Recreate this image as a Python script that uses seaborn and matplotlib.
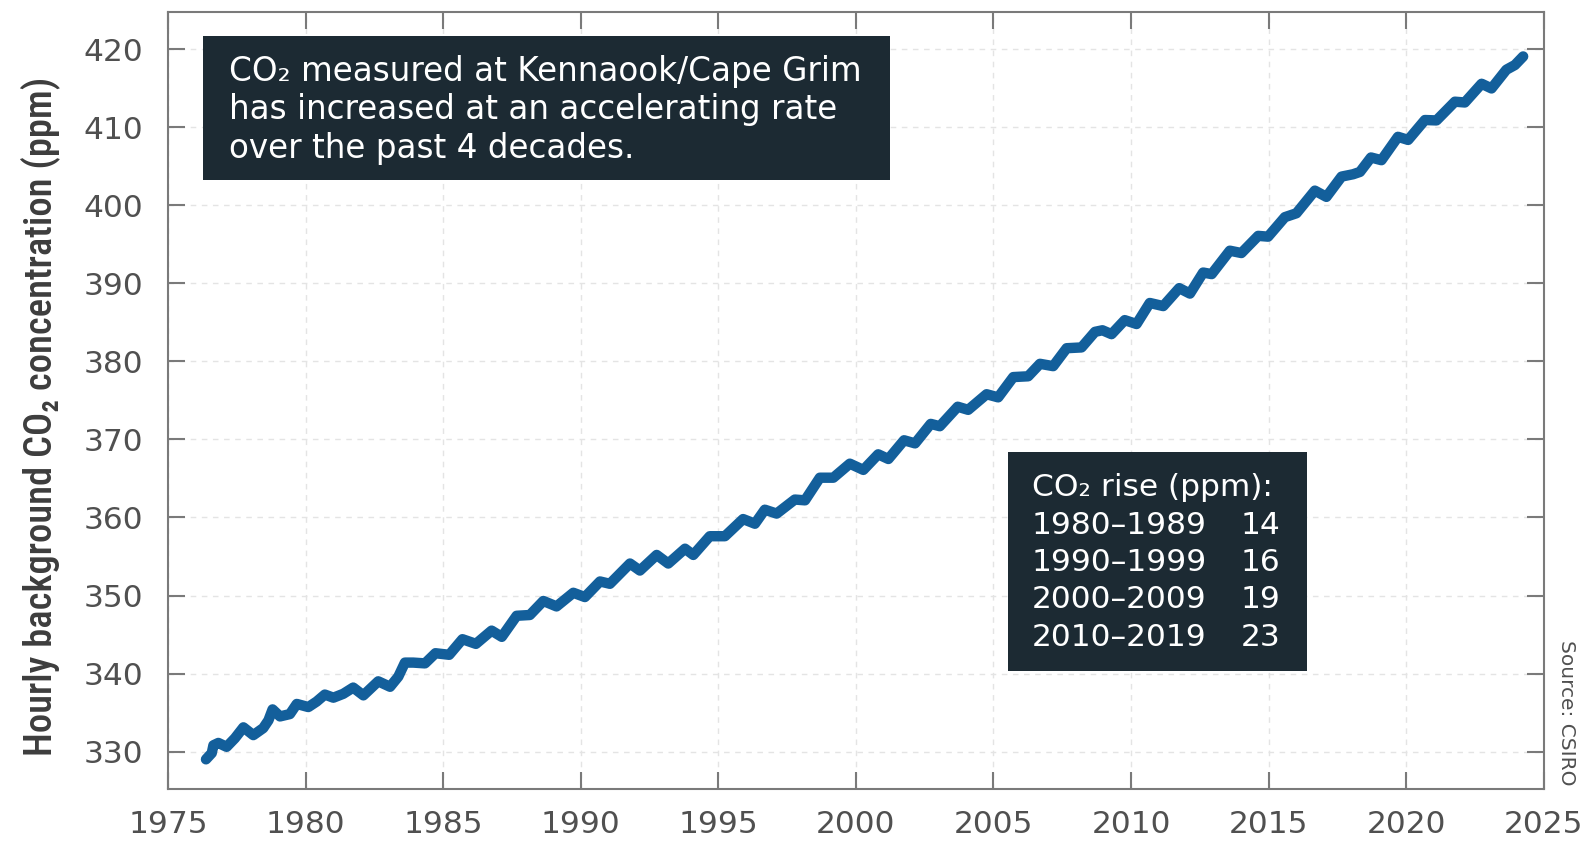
import matplotlib
matplotlib.use("Agg")
import matplotlib.pyplot as plt
import seaborn as sns
import pandas as pd
from matplotlib.patches import Rectangle

# ---- data ----
years = [1976.38, 1976.59, 1976.65, 1976.83, 1977.13, 1977.43, 1977.74, 1978.10, 1978.46, 1978.65,
         1978.80, 1979.07, 1979.43, 1979.68, 1980.10, 1980.40, 1980.70, 1981.01, 1981.37, 1981.73,
         1982.10, 1982.64, 1983.07, 1983.37, 1983.61, 1983.91, 1984.34, 1984.72, 1985.22, 1985.70,
         1986.19, 1986.76, 1987.13, 1987.67, 1988.15, 1988.64, 1989.12, 1989.73, 1990.15, 1990.70,
         1991.06, 1991.79, 1992.15, 1992.76, 1993.18, 1993.79, 1994.09, 1994.69, 1995.24, 1995.90,
         1996.33, 1996.69, 1997.12, 1997.78, 1998.15, 1998.69, 1999.18, 1999.78, 2000.27, 2000.81,
         2001.18, 2001.75, 2002.15, 2002.72, 2003.05, 2003.70, 2004.08, 2004.75, 2005.17, 2005.72,
         2006.26, 2006.69, 2007.17, 2007.66, 2008.20, 2008.69, 2008.96, 2009.29, 2009.77, 2010.20,
         2010.68, 2011.17, 2011.75, 2012.14, 2012.62, 2012.93, 2013.59, 2014.01, 2014.62, 2014.98,
         2015.59, 2016.01, 2016.68, 2017.10, 2017.65, 2018.07, 2018.32, 2018.72, 2019.10, 2019.70,
         2020.07, 2020.68, 2021.10, 2021.77, 2022.13, 2022.74, 2023.10, 2023.64, 2023.95, 2024.25]
co2_ppm = [329.0, 329.8, 330.8, 331.1, 330.6, 331.7, 333.1, 332.1, 333.0, 334.0,
           335.4, 334.5, 334.8, 336.1, 335.7, 336.4, 337.3, 336.9, 337.4, 338.2,
           337.2, 339.0, 338.3, 339.6, 341.4, 341.4, 341.3, 342.6, 342.4, 344.4,
           343.8, 345.5, 344.7, 347.4, 347.5, 349.3, 348.6, 350.35, 349.8, 351.8,
           351.5, 354.1, 353.2, 355.2, 354.1, 356.0, 355.2, 357.6, 357.6, 359.8,
           359.2, 361.0, 360.5, 362.3, 362.2, 365.1, 365.1, 366.9, 366.1, 368.1,
           367.5, 369.9, 369.5, 372.0, 371.7, 374.2, 373.8, 375.8, 375.4, 378.0,
           378.1, 379.7, 379.4, 381.7, 381.8, 383.8, 384.0, 383.5, 385.3, 384.8,
           387.5, 387.1, 389.4, 388.7, 391.4, 391.2, 394.2, 393.9, 396.1, 396.0,
           398.5, 399.0, 401.9, 401.1, 403.7, 404.0, 404.3, 406.15, 405.8, 408.8,
           408.4, 410.95, 410.9, 413.3, 413.2, 415.6, 415.0, 417.4, 418.0, 419.1]

x_ticks = [1975, 1980, 1985, 1990, 1995, 2000, 2005, 2010, 2015, 2020, 2025]
y_ticks = [330, 340, 350, 360, 370, 380, 390, 400, 410, 420]

headline = "CO\u2082 measured at Kennaook/Cape Grim\nhas increased at an accelerating rate\nover the past 4 decades."
table_title = "CO\u2082 rise (ppm):"
periods = ["1980\u20131989", "1990\u20131999", "2000\u20132009", "2010\u20132019"]
rises = [14, 16, 19, 23]
y_label = "Hourly background CO\u2082 concentration (ppm)"
source = "Source: CSIRO"

df = pd.DataFrame({"year": years, "co2": co2_ppm})

# ---- style ----
sns.set_theme(style="white")
plt.rcParams["font.family"] = ["DejaVu Sans"]
GRAY = "#7a7a7a"
TXT = "#505050"
BOX = "#1c2a33"
LINE = "#135f9b"

fig = plt.figure(figsize=(15.85, 8.44), dpi=100)
ax = fig.add_axes([0.106, 0.0652, 0.868, 0.9206])

sns.lineplot(data=df, x="year", y="co2", ax=ax, color=LINE, linewidth=7.5,
             solid_joinstyle="round", solid_capstyle="round", zorder=3)

ax.set_xlim(1975, 2025)
ax.set_ylim(325.2, 424.8)
ax.set_xticks(x_ticks)
ax.set_yticks(y_ticks)
ax.set_xlabel("")
ax.set_ylabel(y_label, family=["Roboto Condensed", "Roboto", "DejaVu Sans"],
              fontsize=27.8, color="#3d3d3d", fontweight="medium")
ax.yaxis.set_label_coords(-0.0785, 0.48)

ax.tick_params(axis="both", which="major", direction="in", length=12, width=1.5,
               color=GRAY, labelcolor=TXT, labelsize=22.5,
               top=True, right=True, bottom=True, left=True)
ax.tick_params(axis="x", pad=15)
ax.tick_params(axis="y", pad=18)

for s in ax.spines.values():
    s.set_color(GRAY)
    s.set_linewidth(1.5)

ax.grid(True, color="#e4e4e4", linestyle=(0, (4, 4)), linewidth=1.0)
ax.set_axisbelow(True)

# headline box
ax.add_patch(Rectangle((0.0254, 0.784), 0.4996, 0.185, transform=ax.transAxes,
                       facecolor=BOX, edgecolor="none", zorder=5))
ax.text(0.044, 0.874, headline, transform=ax.transAxes, ha="left", va="center",
        color="white", fontsize=23.5, linespacing=1.22, zorder=6)

# table box
ax.add_patch(Rectangle((0.6105, 0.1519), 0.2173, 0.2818, transform=ax.transAxes,
                       facecolor=BOX, edgecolor="none", zorder=5))
y0 = 0.3874
dy = 0.048
ax.text(0.628, y0, table_title, transform=ax.transAxes, ha="left", va="center",
        color="white", fontsize=22.5, zorder=6)
for i, (p, r) in enumerate(zip(periods, rises)):
    yy = y0 - dy * (i + 1)
    ax.text(0.628, yy, p, transform=ax.transAxes, ha="left", va="center",
            color="white", fontsize=22.5, zorder=6)
    ax.text(0.8088, yy, str(r), transform=ax.transAxes, ha="right", va="center",
            color="white", fontsize=22.5, zorder=6)

fig.text(0.9886, 0.155, source, rotation=-90, ha="center", va="center",
         fontsize=14.5, color=TXT)

fig.savefig("out.png", dpi=100)
